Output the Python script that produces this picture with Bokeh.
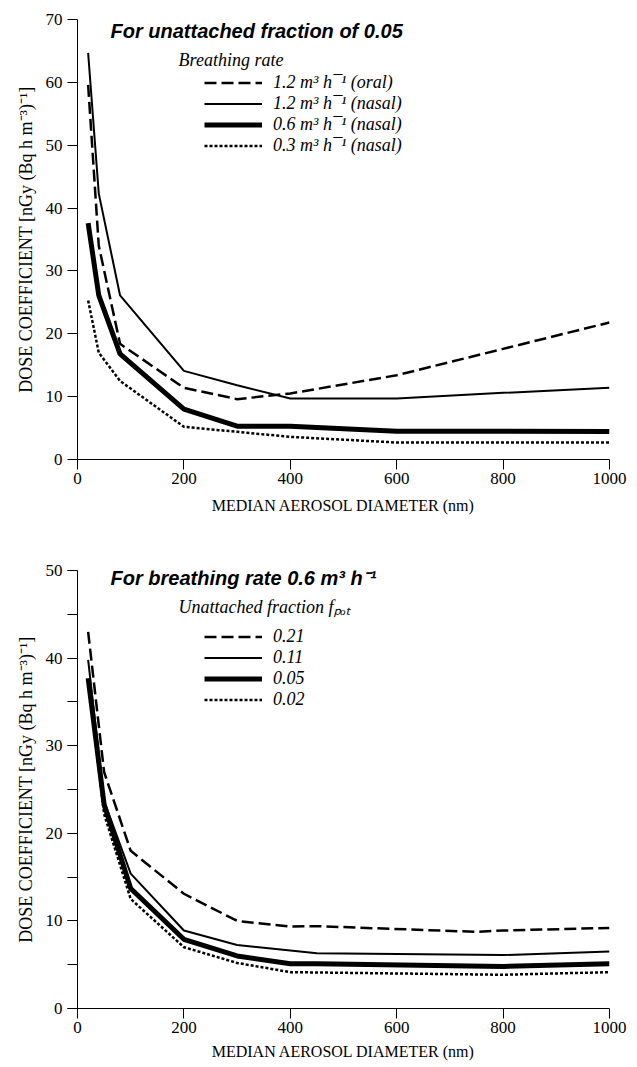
from bokeh.plotting import figure
from bokeh.models import Legend, LegendItem, Label, Range1d, SingleIntervalTicker
from bokeh.layouts import column
from bokeh.embed import file_html
from bokeh.resources import INLINE

# ---------------- data: top panel (unattached fraction 0.05) ----------------
x_top = [20, 40, 80, 200, 300, 400, 600, 800, 1000]
oral_12 = [59.6, 34.0, 18.4, 11.4, 9.6, 10.5, 13.4, 17.6, 21.8]
nasal_12 = [64.7, 42.3, 26.1, 14.1, 11.8, 9.7, 9.7, 10.6, 11.4]
nasal_06 = [37.6, 26.1, 16.8, 8.0, 5.3, 5.3, 4.5, 4.5, 4.45]
nasal_03 = [25.3, 17.0, 12.5, 5.2, 4.4, 3.6, 2.7, 2.7, 2.7]
top_labels = ["1.2 m³ h¯¹ (oral)", "1.2 m³ h¯¹ (nasal)",
              "0.6 m³ h¯¹ (nasal)", "0.3 m³ h¯¹ (nasal)"]

# ---------------- data: bottom panel (breathing rate 0.6) ----------------
x_f021 = [20, 50, 100, 200, 300, 400, 450, 750, 800, 1000]
f021 = [43.0, 27.0, 18.0, 13.1, 10.0, 9.35, 9.4, 8.75, 8.9, 9.2]
x_f011 = [20, 50, 100, 200, 300, 450, 800, 1000]
f011 = [39.8, 23.7, 15.4, 8.9, 7.25, 6.3, 6.1, 6.5]
x_f005 = [20, 50, 100, 200, 300, 400, 450, 800, 1000]
f005 = [37.7, 23.3, 13.7, 7.9, 6.0, 5.1, 5.1, 4.8, 5.1]
x_f002 = [20, 50, 100, 200, 300, 400, 800, 1000]
f002 = [37.5, 22.2, 12.5, 7.0, 5.2, 4.15, 3.85, 4.15]
bottom_labels = ["0.21", "0.11", "0.05", "0.02"]

SERIF = "Liberation Serif"
SANS = "Liberation Sans"

styles = [
    dict(line_width=2.5, line_dash="12 5"),
    dict(line_width=2),
    dict(line_width=5),
    dict(line_width=2.5, line_dash="3 2"),
]


def style_axes(p, ymax, minor, xlabel_standoff):
    p.x_range = Range1d(0, 1000)
    p.y_range = Range1d(0, ymax)
    p.xgrid.visible = False
    p.ygrid.visible = False
    p.outline_line_color = None
    p.xaxis.ticker = SingleIntervalTicker(interval=200, num_minor_ticks=0)
    p.yaxis.ticker = SingleIntervalTicker(interval=10, num_minor_ticks=minor)
    for ax in (p.xaxis, p.yaxis):
        ax.axis_line_color = "black"
        ax.major_tick_line_color = "black"
        ax.minor_tick_line_color = "black"
        ax.major_tick_in = 0
        ax.major_tick_out = 10
        ax.minor_tick_in = 0
        ax.minor_tick_out = 10 if minor else 0
        ax.major_label_text_font = SERIF
        ax.major_label_text_font_size = "17px"
        ax.major_label_text_color = "black"
        ax.axis_label_text_font = SERIF
        ax.axis_label_text_font_style = "normal"
        ax.axis_label_text_color = "black"
    p.xaxis.axis_label_text_font_size = "16px"
    p.yaxis.axis_label_text_font_size = "18px"
    p.xaxis.major_label_standoff = 3
    p.yaxis.major_label_standoff = 5
    p.xaxis.axis_label = "MEDIAN AEROSOL DIAMETER (nm)"
    p.yaxis.axis_label = "DOSE COEFFICIENT [nGy (Bq h m⁻³)⁻¹]"
    p.xaxis.axis_label_standoff = xlabel_standoff
    p.yaxis.axis_label_standoff = 7


def add_legend(p, renderers, labels, y_loc, item_h):
    items = [LegendItem(label=l, renderers=[r]) for l, r in zip(labels, renderers)]
    leg = Legend(items=items, location=(127, y_loc))
    leg.padding = 0
    leg.margin = 0
    leg.spacing = 0
    leg.border_line_color = None
    leg.background_fill_alpha = 0
    leg.glyph_width = 58
    leg.glyph_height = item_h
    leg.label_height = item_h
    leg.label_standoff = 11
    leg.label_text_font = SERIF
    leg.label_text_font_style = "italic"
    leg.label_text_font_size = "18px"
    leg.label_text_color = "black"
    p.add_layout(leg, "center")


# ---------------- top figure ----------------
p1 = figure(width=629, height=521, output_backend="svg", toolbar_location=None,
            min_border_left=77, min_border_right=20, min_border_top=19,
            min_border_bottom=62)
style_axes(p1, 70, 0, 10)
r_top = []
for ys, st in zip([oral_12, nasal_12, nasal_06, nasal_03], styles):
    r_top.append(p1.line(x_top, ys, line_color="black", **st))
add_legend(p1, r_top, top_labels, 303, 21)
p1.add_layout(Label(x=62, y=68.1, text="For unattached fraction of 0.05",
                    text_font=SANS, text_font_style="bold italic",
                    text_font_size="20px", text_baseline="middle",
                    text_color="black"))
p1.add_layout(Label(x=190, y=63.6, text="Breathing rate",
                    text_font=SERIF, text_font_style="italic",
                    text_font_size="18px", text_baseline="middle",
                    text_color="black"))

# ---------------- bottom figure ----------------
p2 = figure(width=629, height=546, output_backend="svg", toolbar_location=None,
            min_border_left=77, min_border_right=20, min_border_top=49,
            min_border_bottom=59)
style_axes(p2, 50, 2, 7)
r_bot = []
for xs, ys, st in zip([x_f021, x_f011, x_f005, x_f002], [f021, f011, f005, f002], styles):
    r_bot.append(p2.line(xs, ys, line_color="black", **st))
add_legend(p2, r_bot, bottom_labels, 298, 21)
p2.add_layout(Label(x=62, y=49.1, text="For breathing rate 0.6 m³ h⁻¹",
                    text_font=SANS, text_font_style="bold italic",
                    text_font_size="20px", text_baseline="middle",
                    text_color="black"))
p2.add_layout(Label(x=190, y=45.8, text="Unattached fraction fₚₒₜ",
                    text_font=SERIF, text_font_style="italic",
                    text_font_size="18px", text_baseline="middle",
                    text_color="black"))

layout = column(p1, p2, spacing=0)
open("out.html", "w").write(file_html(layout, INLINE))
